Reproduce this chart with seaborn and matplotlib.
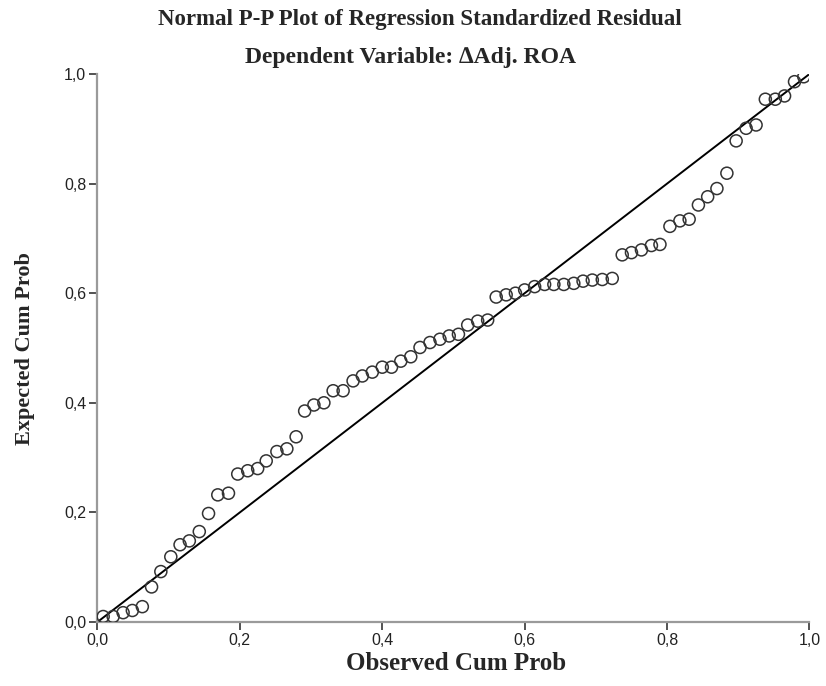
import numpy as np
import pandas as pd
import matplotlib
matplotlib.use('Agg')
import matplotlib.pyplot as plt
import seaborn as sns

# Observed / expected cumulative probabilities
observed = [0.008, 0.022, 0.036, 0.049, 0.063, 0.076, 0.089, 0.103, 0.116, 0.129,
            0.143, 0.156, 0.169, 0.184, 0.197, 0.211, 0.225, 0.237, 0.252, 0.266,
            0.279, 0.291, 0.304, 0.318, 0.331, 0.345, 0.359, 0.372, 0.386, 0.400,
            0.413, 0.426, 0.440, 0.453, 0.467, 0.481, 0.494, 0.507, 0.520, 0.534,
            0.548, 0.560, 0.574, 0.587, 0.600, 0.614, 0.628, 0.641, 0.655, 0.669,
            0.682, 0.695, 0.709, 0.723, 0.737, 0.750, 0.764, 0.778, 0.790, 0.804,
            0.818, 0.831, 0.844, 0.857, 0.870, 0.884, 0.897, 0.911, 0.925, 0.938,
            0.952, 0.965, 0.979, 0.992]
expected = [0.010, 0.010, 0.017, 0.021, 0.028, 0.064, 0.092, 0.119, 0.141, 0.148,
            0.165, 0.198, 0.232, 0.235, 0.270, 0.276, 0.280, 0.294, 0.311, 0.316,
            0.338, 0.385, 0.396, 0.400, 0.422, 0.422, 0.440, 0.449, 0.456, 0.465,
            0.465, 0.476, 0.484, 0.501, 0.510, 0.516, 0.522, 0.525, 0.542, 0.549,
            0.551, 0.593, 0.597, 0.600, 0.606, 0.612, 0.616, 0.616, 0.616, 0.618,
            0.622, 0.624, 0.625, 0.627, 0.670, 0.674, 0.679, 0.687, 0.689, 0.722,
            0.732, 0.735, 0.761, 0.776, 0.791, 0.819, 0.878, 0.901, 0.907, 0.954,
            0.954, 0.960, 0.986, 0.995]

# reference diagonal
diag_x = [0.0, 1.0]
diag_y = [0.0, 1.0]

tick_values = [0.0, 0.2, 0.4, 0.6, 0.8, 1.0]
tick_labels = ['0,0', '0,2', '0,4', '0,6', '0,8', '1,0']

title = 'Normal P-P Plot of Regression Standardized Residual'
subtitle = 'Dependent Variable: \u2206Adj. ROA'

sns.set_style('ticks')
plt.rcParams['font.family'] = ['Liberation Sans', 'DejaVu Sans']

df = pd.DataFrame({'Observed': observed, 'Expected': expected})
df_line = pd.DataFrame({'x': diag_x, 'y': diag_y})

fig = plt.figure(figsize=(8.26, 6.86), dpi=100)
ax = fig.add_axes([0.118, 0.0933, 0.862, 0.7988])

sns.lineplot(data=df_line, x='x', y='y', ax=ax, color='black', linewidth=1.4)
sns.scatterplot(data=df, x='Observed', y='Expected', ax=ax, marker='o', s=75,
                facecolor='none', edgecolor='#333333', linewidth=1.1, zorder=3)

ax.set_xlim(0, 1)
ax.set_ylim(0, 1)
ax.set_xticks(tick_values)
ax.set_xticklabels(tick_labels)
ax.set_yticks(tick_values)
ax.set_yticklabels(tick_labels)
ax.tick_params(axis='both', length=6, width=1.3, color='#444444',
               labelsize=11.5, labelcolor='#222222', pad=2)

sns.despine(ax=ax)
for side in ['left', 'bottom']:
    ax.spines[side].set_color('#9a9a9a')
    ax.spines[side].set_linewidth(1.6)

serif = ['Liberation Serif', 'DejaVu Serif']
ax.set_xlabel('Observed Cum Prob', fontsize=18, fontweight='bold', family=serif)
ax.set_ylabel('Expected Cum Prob', fontsize=16, fontweight='bold', family=serif)
ax.xaxis.set_label_coords(0.503, -0.0766)
ax.xaxis.label.set_va('center')
ax.yaxis.set_label_coords(-0.102, 0.499)
ax.yaxis.label.set_va('center')

fig.text(0.508, 0.971, title, ha='center', va='center', fontsize=16.5,
         fontweight='bold', family=serif)
fig.text(0.497, 0.916, subtitle, ha='center', va='center', fontsize=17,
         fontweight='bold', family=serif + ['DejaVu Sans'])

fig.savefig('out.png', dpi=100)
plt.close(fig)
